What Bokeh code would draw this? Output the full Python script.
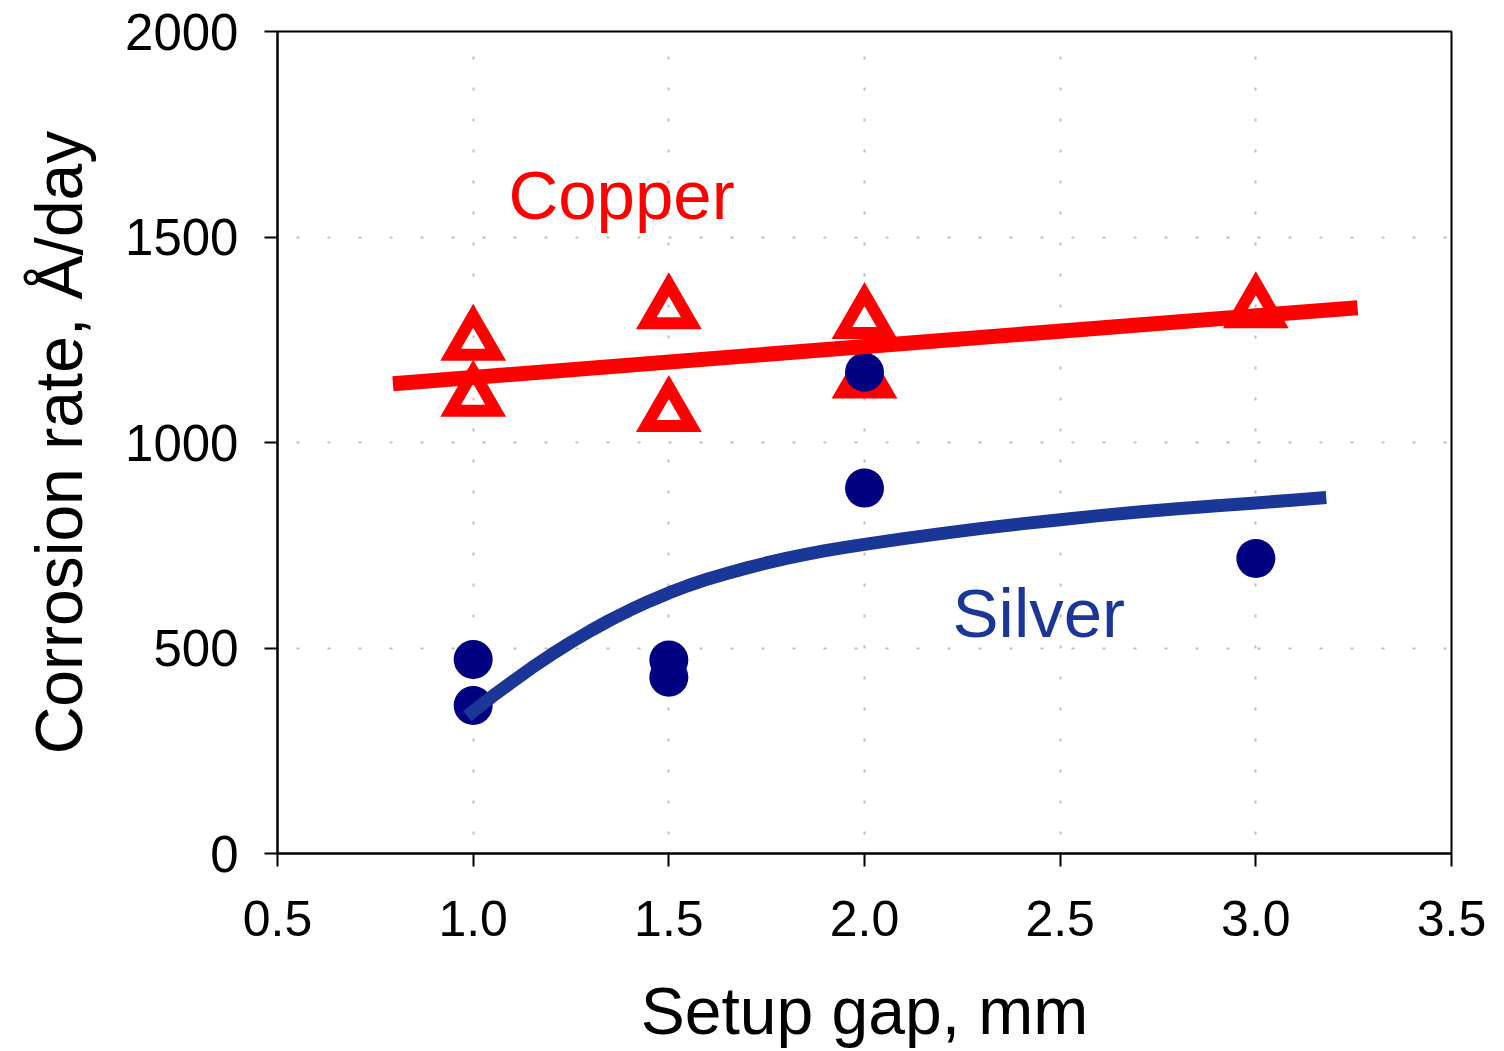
from bokeh.plotting import figure
from bokeh.models import Range1d, FixedTicker, Label, PrintfTickFormatter
from bokeh.embed import file_html
from bokeh.resources import INLINE

# ---- data ----
copper_x = [1.0, 1.0, 1.5, 1.5, 2.0, 2.0, 3.0]
copper_y = [1245, 1109, 1322, 1072, 1298, 1153, 1324]
silver_x = [1.0, 1.0, 1.5, 1.5, 2.0, 2.0, 3.0]
silver_y = [472, 360, 471, 429, 1171, 889, 718]
copper_fit_x = [0.795, 3.26]
copper_fit_y = [1143, 1328]
silver_fit_x = [0.985, 1.00, 1.05, 1.10, 1.15, 1.20, 1.25, 1.30, 1.35, 1.40,
                1.45, 1.50, 1.55, 1.60, 1.65, 1.70, 1.75, 1.80, 1.85, 1.90,
                1.95, 2.00, 2.10, 2.20, 2.30, 2.40, 2.50, 2.60, 2.70, 2.80,
                2.90, 3.00, 3.10, 3.18]
silver_fit_y = [334, 346, 383, 418, 452, 484, 514, 542, 568, 592,
                614, 634, 652, 668, 682, 695, 707, 718, 728, 737,
                745, 752, 766, 779, 791, 802, 812, 822, 831, 839,
                846, 853, 860, 866]
x_ticks = [0.5, 1.0, 1.5, 2.0, 2.5, 3.0, 3.5]
y_ticks = [0, 500, 1000, 1500, 2000]
x_title = "Setup gap, mm"
y_title = "Corrosion rate, Å/day"

FONT = "Liberation Sans"
RED = "#FF0000"
NAVY = "#000080"
BLUE = "#1A3696"

p = figure(width=1498, height=1050,
           x_range=Range1d(0.5, 3.5), y_range=Range1d(0, 2000),
           output_backend="svg", toolbar_location=None,
           min_border_left=277, min_border_right=47,
           min_border_top=31, min_border_bottom=197)

p.background_fill_color = "white"
p.border_fill_color = "white"
p.outline_line_color = "black"
p.outline_line_width = 2

# axes
for ax in (p.xaxis, p.yaxis):
    ax.axis_line_color = "black"
    ax.axis_line_width = 2
    ax.major_tick_line_color = "black"
    ax.major_tick_line_width = 2
    ax.major_tick_out = 13
    ax.major_tick_in = 0
    ax.minor_tick_line_color = None
    ax.major_label_text_font = FONT
    ax.major_label_text_color = "black"
    ax.axis_label_text_font = FONT
    ax.axis_label_text_font_size = "66px"
    ax.axis_label_text_font_style = "normal"
    ax.axis_label_text_color = "black"

p.xaxis.major_label_text_font_size = "50px"
p.yaxis.major_label_text_font_size = "51px"
p.xaxis.ticker = FixedTicker(ticks=x_ticks)
p.xaxis.formatter = PrintfTickFormatter(format="%.1f")
p.yaxis.ticker = FixedTicker(ticks=y_ticks)
p.xaxis.axis_label = x_title
p.yaxis.axis_label = y_title
p.xaxis.major_label_standoff = 34
p.xaxis.axis_label_standoff = 35
p.yaxis.major_label_standoff = 26
p.yaxis.axis_label_standoff = 26

# dotted grid
p.xgrid.ticker = FixedTicker(ticks=x_ticks)
p.ygrid.ticker = FixedTicker(ticks=y_ticks)
for g in (p.xgrid, p.ygrid):
    g.grid_line_color = "#BDBDBD"
    g.grid_line_width = 2
    g.grid_line_dash = "3 28"
    g.grid_line_dash_offset = 12

# markers
p.scatter(copper_x, copper_y, marker="triangle", size=45,
          fill_color=None, line_color=RED, line_width=12, line_join="miter")
p.scatter(silver_x, silver_y, marker="circle", size=39,
          fill_color=NAVY, line_color=None)

# fitted curves
p.line(copper_fit_x, copper_fit_y, line_color=RED, line_width=15)
p.line(silver_fit_x, silver_fit_y, line_color=BLUE, line_width=13, line_join="round")

# series labels
p.add_layout(Label(x=1.090, y=1600, text="Copper", text_font=FONT,
                   text_font_size="69px", text_color=RED,
                   text_baseline="alphabetic", text_align="left"))
p.add_layout(Label(x=2.225, y=583, text="Silver", text_font=FONT,
                   text_font_size="69px", text_color=BLUE,
                   text_baseline="alphabetic", text_align="left"))

open("out.html", "w").write(file_html(p, INLINE))
